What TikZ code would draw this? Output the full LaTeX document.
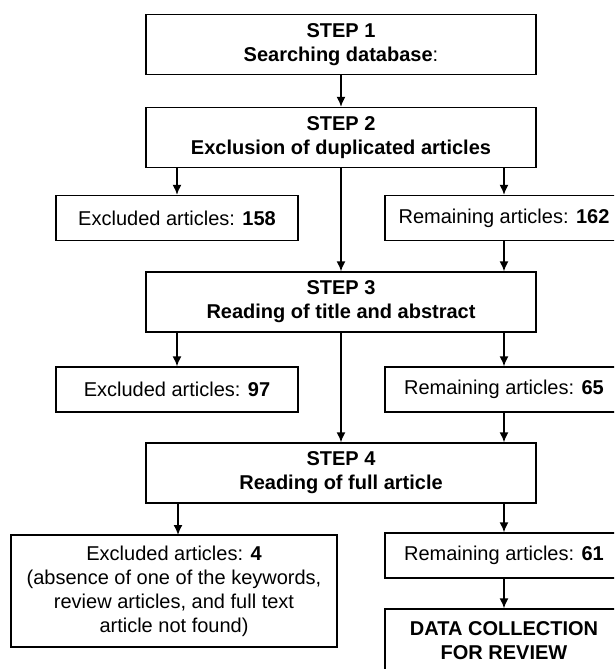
\documentclass[tikz,border=0pt]{standalone}
\usepackage{fontspec}
\setmainfont{Liberation Sans}
\usetikzlibrary{arrows.meta}

\begin{document}
\begin{tikzpicture}[x=1pt,y=-1pt,
    step_box/.style={rectangle,draw=black,line width=1.3pt,minimum width=390pt,minimum height=60pt,align=center,font=\fontsize{20}{24}\selectfont\bfseries},
    side_box/.style={rectangle,draw=black,line width=1.3pt,minimum height=45pt,align=center,font=\fontsize{20}{24}\selectfont},
    excl_box/.style={side_box,minimum width=242pt},
    rem_box/.style={side_box,minimum width=238pt},
    flow_arrow/.style={line width=1.6pt,-{Latex[length=10pt,width=9pt]}}]
  \clip (0,0) rectangle (614,669);
\node[step_box] (step1) at (341,44.5) {STEP 1\\Searching database{\mdseries:}};
\node[step_box] (step2) at (341,137.5) {STEP 2\\Exclusion of duplicated articles};
\node[excl_box] (excl1) at (177,218) {Excluded articles: \textbf{158}};
\node[rem_box] (rem1) at (504,218) {Remaining articles: \textbf{162}};
\node[step_box] (step3) at (341,302) {STEP 3\\Reading of title and abstract};
\node[excl_box] (excl2) at (177,389.5) {Excluded articles: \textbf{97}};
\node[rem_box] (rem2) at (504,389.5) {Remaining articles: \textbf{65}};
\node[step_box] (step4) at (341,473) {STEP 4\\Reading of full article};
\node[side_box,minimum width=326pt,minimum height=112pt] (excl3) at (174,591) {Excluded articles: \textbf{4}\\(absence of one of the keywords,\\review articles, and full text\\article not found)};
\node[rem_box] (rem3) at (504,555.5) {Remaining articles: \textbf{61}};
\node[rem_box,minimum height=64pt,font=\fontsize{20}{24}\selectfont\bfseries] (data) at (504,641) {DATA COLLECTION\\FOR REVIEW};
\draw[flow_arrow] (step1) -- (step2);
\draw[flow_arrow] (step2.south -| excl1.north) -- (excl1.north);
\draw[flow_arrow] (step2.south -| rem1.north) -- (rem1.north);
\draw[flow_arrow] (step2) -- (step3);
\draw[flow_arrow] (rem1) -- (step3.north -| rem1.south);
\draw[flow_arrow] (step3.south -| excl2.north) -- (excl2.north);
\draw[flow_arrow] (step3.south -| rem2.north) -- (rem2.north);
\draw[flow_arrow] (step3) -- (step4);
\draw[flow_arrow] (rem2) -- (step4.north -| rem2.south);
\draw[flow_arrow] (step4.south -| 178,0) -- (178,535);
\draw[flow_arrow] (step4.south -| rem3.north) -- (rem3.north);
\draw[flow_arrow] (rem3) -- (data);
\end{tikzpicture}
\end{document}
